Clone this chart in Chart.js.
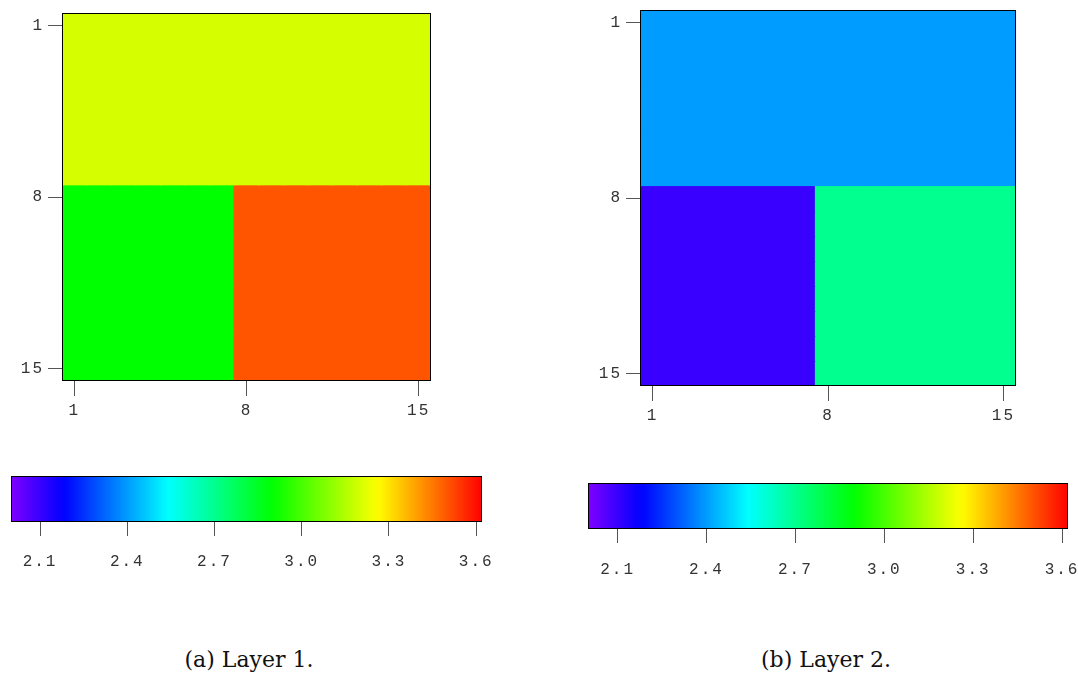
<!DOCTYPE html>
<html>
<head>
<meta charset="utf-8">
<script src="https://cdn.jsdelivr.net/npm/chart.js@4/dist/chart.umd.min.js"></script>
<style>
  html, body { margin: 0; padding: 0; background: #fff; }
  #page { position: relative; width: 1078px; height: 673px; overflow: hidden; }
  canvas { position: absolute; }
  .caption {
    position: absolute; top: 647px;
    font-family: 'DejaVu Serif', serif; font-size: 22px; color: #111;
    white-space: nowrap; transform: translateX(-50%);
  }
</style>
</head>
<body>
<div id="page">
  <canvas id="layer1" width="540" height="440" style="left:0;top:0"></canvas>
  <canvas id="layer2" width="538" height="440" style="left:540px;top:0"></canvas>
  <canvas id="bar1" width="540" height="150" style="left:0;top:440px"></canvas>
  <canvas id="bar2" width="538" height="150" style="left:540px;top:440px"></canvas>
  <div class="caption" style="left:249px">(a) Layer 1.</div>
  <div class="caption" style="left:826px">(b) Layer 2.</div>
</div>
<script>
// Grid cell labels (columns) and the ticks shown on both axes
const gridLabels = ['1','2','3','4','5','6','7','8','9','10','11','12','13','14','15'];
const axisTicks = [1, 8, 15];

// Colour scale
const colorMin = 2.0;
const colorMax = 3.62;
const colorbarTicks = [2.1, 2.4, 2.7, 3.0, 3.3, 3.6];

// Layer 1 values, one row per grid row (top to bottom)
const layer1 = [
  [3.2,3.2,3.2,3.2,3.2,3.2,3.2,3.2,3.2,3.2,3.2,3.2,3.2,3.2,3.2],
  [3.2,3.2,3.2,3.2,3.2,3.2,3.2,3.2,3.2,3.2,3.2,3.2,3.2,3.2,3.2],
  [3.2,3.2,3.2,3.2,3.2,3.2,3.2,3.2,3.2,3.2,3.2,3.2,3.2,3.2,3.2],
  [3.2,3.2,3.2,3.2,3.2,3.2,3.2,3.2,3.2,3.2,3.2,3.2,3.2,3.2,3.2],
  [3.2,3.2,3.2,3.2,3.2,3.2,3.2,3.2,3.2,3.2,3.2,3.2,3.2,3.2,3.2],
  [3.2,3.2,3.2,3.2,3.2,3.2,3.2,3.2,3.2,3.2,3.2,3.2,3.2,3.2,3.2],
  [3.2,3.2,3.2,3.2,3.2,3.2,3.2,3.2,3.2,3.2,3.2,3.2,3.2,3.2,3.2],
  [2.9,2.9,2.9,2.9,2.9,2.9,2.9,3.5,3.5,3.5,3.5,3.5,3.5,3.5,3.5],
  [2.9,2.9,2.9,2.9,2.9,2.9,2.9,3.5,3.5,3.5,3.5,3.5,3.5,3.5,3.5],
  [2.9,2.9,2.9,2.9,2.9,2.9,2.9,3.5,3.5,3.5,3.5,3.5,3.5,3.5,3.5],
  [2.9,2.9,2.9,2.9,2.9,2.9,2.9,3.5,3.5,3.5,3.5,3.5,3.5,3.5,3.5],
  [2.9,2.9,2.9,2.9,2.9,2.9,2.9,3.5,3.5,3.5,3.5,3.5,3.5,3.5,3.5],
  [2.9,2.9,2.9,2.9,2.9,2.9,2.9,3.5,3.5,3.5,3.5,3.5,3.5,3.5,3.5],
  [2.9,2.9,2.9,2.9,2.9,2.9,2.9,3.5,3.5,3.5,3.5,3.5,3.5,3.5,3.5],
  [2.9,2.9,2.9,2.9,2.9,2.9,2.9,3.5,3.5,3.5,3.5,3.5,3.5,3.5,3.5]
];

// Layer 2 values
const layer2 = [
  [2.4,2.4,2.4,2.4,2.4,2.4,2.4,2.4,2.4,2.4,2.4,2.4,2.4,2.4,2.4],
  [2.4,2.4,2.4,2.4,2.4,2.4,2.4,2.4,2.4,2.4,2.4,2.4,2.4,2.4,2.4],
  [2.4,2.4,2.4,2.4,2.4,2.4,2.4,2.4,2.4,2.4,2.4,2.4,2.4,2.4,2.4],
  [2.4,2.4,2.4,2.4,2.4,2.4,2.4,2.4,2.4,2.4,2.4,2.4,2.4,2.4,2.4],
  [2.4,2.4,2.4,2.4,2.4,2.4,2.4,2.4,2.4,2.4,2.4,2.4,2.4,2.4,2.4],
  [2.4,2.4,2.4,2.4,2.4,2.4,2.4,2.4,2.4,2.4,2.4,2.4,2.4,2.4,2.4],
  [2.4,2.4,2.4,2.4,2.4,2.4,2.4,2.4,2.4,2.4,2.4,2.4,2.4,2.4,2.4],
  [2.1,2.1,2.1,2.1,2.1,2.1,2.1,2.7,2.7,2.7,2.7,2.7,2.7,2.7,2.7],
  [2.1,2.1,2.1,2.1,2.1,2.1,2.1,2.7,2.7,2.7,2.7,2.7,2.7,2.7,2.7],
  [2.1,2.1,2.1,2.1,2.1,2.1,2.1,2.7,2.7,2.7,2.7,2.7,2.7,2.7,2.7],
  [2.1,2.1,2.1,2.1,2.1,2.1,2.1,2.7,2.7,2.7,2.7,2.7,2.7,2.7,2.7],
  [2.1,2.1,2.1,2.1,2.1,2.1,2.1,2.7,2.7,2.7,2.7,2.7,2.7,2.7,2.7],
  [2.1,2.1,2.1,2.1,2.1,2.1,2.1,2.7,2.7,2.7,2.7,2.7,2.7,2.7,2.7],
  [2.1,2.1,2.1,2.1,2.1,2.1,2.1,2.7,2.7,2.7,2.7,2.7,2.7,2.7,2.7],
  [2.1,2.1,2.1,2.1,2.1,2.1,2.1,2.7,2.7,2.7,2.7,2.7,2.7,2.7,2.7]
];

// Rainbow map: violet at colorMin through blue, cyan, green, yellow to red at colorMax
function valueColor(v) {
  const t = Math.min(1, Math.max(0, (v - colorMin) / (colorMax - colorMin)));
  return 'hsl(' + (270 * (1 - t)).toFixed(2) + ',100%,50%)';
}

const tickFont = { family: "'Liberation Mono', monospace", size: 16 };
const tickColor = '#333';
const tickLineColor = '#555';

// Wide letter spacing for the axis numbers
const spacedText = {
  id: 'spacedText',
  beforeUpdate(chart) { chart.ctx.letterSpacing = '2px'; },
  beforeDraw(chart) { chart.ctx.letterSpacing = '2px'; }
};

// Black frame around the plotting area
const frame = {
  id: 'frame',
  afterDatasetsDraw(chart) {
    const { ctx, chartArea: a } = chart;
    ctx.save();
    ctx.strokeStyle = '#000';
    ctx.lineWidth = 1;
    ctx.strokeRect(a.left + 0.5, a.top + 0.5, a.right - a.left - 1, a.bottom - a.top - 1);
    ctx.restore();
  }
};

function heatmap(id, grid, box) {
  // one floating-bar dataset per grid row, spanning that row on the y scale
  const datasets = grid.map((row, r) => ({
    data: row.map(() => [r + 0.5, r + 1.5]),
    backgroundColor: row.map(valueColor),
    borderWidth: 0,
    inflateAmount: 0.6,
    grouped: false,
    barPercentage: 1,
    categoryPercentage: 1
  }));
  return new Chart(document.getElementById(id), {
    type: 'bar',
    data: { labels: gridLabels, datasets },
    plugins: [spacedText, frame],
    options: {
      responsive: false,
      animation: false,
      events: [],
      layout: { padding: { left: 0, top: box.top, right: box.right, bottom: box.bottom } },
      plugins: { legend: { display: false }, tooltip: { enabled: false } },
      scales: {
        x: {
          type: 'category',
          offset: true,
          border: { display: false },
          grid: { offset: false, drawOnChartArea: false, tickLength: 15, color: tickLineColor },
          ticks: { autoSkip: false, maxRotation: 0, padding: 5, font: tickFont, color: tickColor },
          afterBuildTicks: s => { s.ticks = s.ticks.filter(t => axisTicks.includes(t.value + 1)); },
          afterFit: s => { s.height = box.xAxisHeight; s.paddingLeft = 0; s.paddingRight = 0; }
        },
        y: {
          type: 'linear',
          min: 0.5,
          max: 15.5,
          reverse: true,
          border: { display: false },
          grid: { drawOnChartArea: false, tickLength: 14, color: tickLineColor },
          ticks: { padding: 4, font: tickFont, color: tickColor },
          afterBuildTicks: s => { s.ticks = axisTicks.map(v => ({ value: v })); },
          afterFit: s => { s.width = box.yAxisWidth; s.paddingTop = 0; s.paddingBottom = 0; }
        }
      }
    }
  });
}

function rainbowGradient(chart) {
  const x = chart.scales.x;
  if (!x || !chart.chartArea) return null;
  const g = chart.ctx.createLinearGradient(x.getPixelForValue(colorMin), 0, x.getPixelForValue(colorMax), 0);
  const n = 60;
  for (let i = 0; i <= n; i++) {
    g.addColorStop(i / n, valueColor(colorMin + (colorMax - colorMin) * i / n));
  }
  return g;
}

function colorbar(id, box) {
  return new Chart(document.getElementById(id), {
    type: 'bar',
    data: {
      labels: [''],
      datasets: [{
        data: [[colorMin, colorMax]],
        backgroundColor: ctx => rainbowGradient(ctx.chart),
        borderColor: '#000',
        borderWidth: 1,
        borderSkipped: false,
        inflateAmount: 0,
        barPercentage: 1,
        categoryPercentage: 1
      }]
    },
    plugins: [spacedText],
    options: {
      indexAxis: 'y',
      responsive: false,
      animation: false,
      events: [],
      layout: { padding: { left: box.left, top: box.top, right: box.right, bottom: box.bottom } },
      plugins: { legend: { display: false }, tooltip: { enabled: false } },
      scales: {
        x: {
          type: 'linear',
          min: colorMin,
          max: colorMax,
          border: { display: false },
          grid: { drawOnChartArea: false, tickLength: 14, color: tickLineColor },
          ticks: { padding: box.labelPad, font: tickFont, color: tickColor, callback: v => v.toFixed(1) },
          afterBuildTicks: s => { s.ticks = colorbarTicks.map(v => ({ value: v })); },
          afterFit: s => { s.height = 50; s.paddingLeft = 0; s.paddingRight = 0; }
        },
        y: { display: false }
      }
    }
  });
}

heatmap('layer1', layer1, { top: 13, right: 109, bottom: 19, xAxisHeight: 40, yAxisWidth: 62 });
heatmap('layer2', layer2, { top: 10, right: 62, bottom: 14, xAxisHeight: 40, yAxisWidth: 100 });
colorbar('bar1', { left: 11, top: 36, right: 58, bottom: 18, labelPad: 16 });
colorbar('bar2', { left: 48, top: 43, right: 10, bottom: 11, labelPad: 17 });
</script>
</body>
</html>
